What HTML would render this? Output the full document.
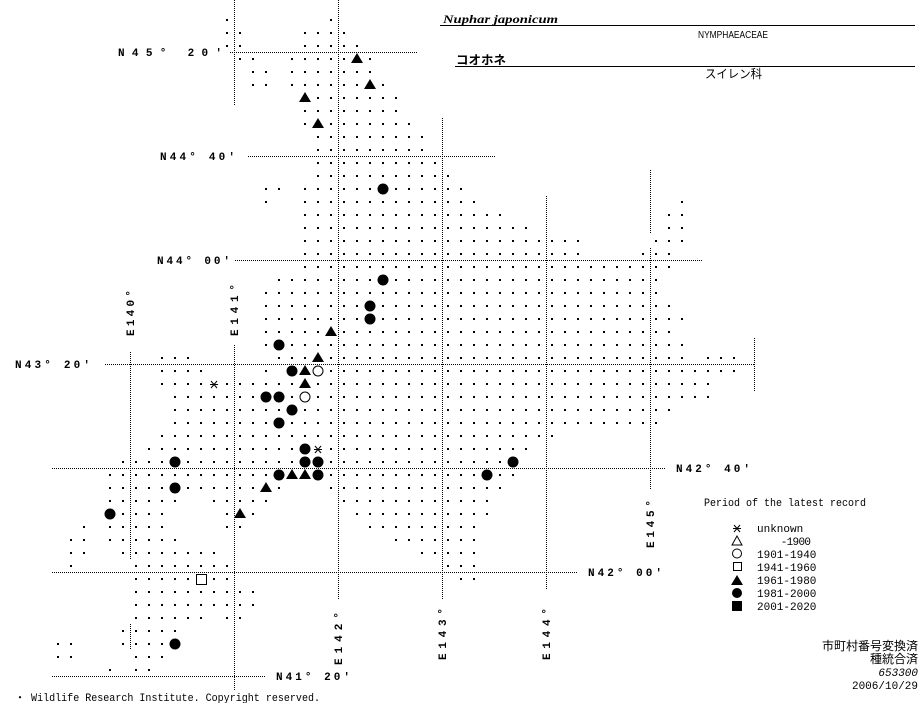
<!DOCTYPE html>
<html><head><meta charset="utf-8"><style>
html,body{margin:0;padding:0;background:#fff;}
svg{display:block;}
.g line{stroke:#000;stroke-width:2;stroke-dasharray:2 11;}
.d line{stroke:#000;stroke-width:1;stroke-dasharray:1 1;}
.lab{font-family:"Liberation Mono",monospace;font-size:11px;font-weight:bold;}
.mono{font-family:"Liberation Mono",monospace;font-size:11px;}
.jp{font-family:"Liberation Sans","Noto Sans CJK JP",sans-serif;}
</style></head><body>
<svg width="923" height="703" viewBox="0 0 923 703" xmlns="http://www.w3.org/2000/svg">
<rect width="923" height="703" fill="#fff"/>
<g class="d">
<line x1="230" y1="52.5" x2="418" y2="52.5"/>
<line x1="248" y1="156.5" x2="495" y2="156.5"/>
<line x1="235" y1="260.5" x2="703" y2="260.5"/>
<line x1="105" y1="364.5" x2="755" y2="364.5"/>
<line x1="52" y1="468.5" x2="665" y2="468.5"/>
<line x1="52" y1="572.5" x2="578" y2="572.5"/>
<line x1="52" y1="676.5" x2="265" y2="676.5"/>
<line x1="234.5" y1="0" x2="234.5" y2="105"/>
<line x1="234.5" y1="345" x2="234.5" y2="690"/>
<line x1="130.5" y1="352" x2="130.5" y2="560"/>
<line x1="130.5" y1="624" x2="130.5" y2="650"/>
<line x1="338.5" y1="0" x2="338.5" y2="600"/>
<line x1="442.5" y1="118" x2="442.5" y2="600"/>
<line x1="546.5" y1="196" x2="546.5" y2="590"/>
<line x1="650.5" y1="170" x2="650.5" y2="234"/>
<line x1="650.5" y1="248" x2="650.5" y2="490"/>
<line x1="754.5" y1="338" x2="754.5" y2="392"/>
</g>
<g class="g">
<line x1="226" x2="228" y1="20" y2="20"/><line x1="330" x2="332" y1="20" y2="20"/>
<line x1="226" x2="241" y1="33" y2="33"/><line x1="304" x2="345" y1="33" y2="33"/>
<line x1="226" x2="241" y1="46" y2="46"/><line x1="304" x2="358" y1="46" y2="46"/>
<line x1="239" x2="254" y1="59" y2="59"/><line x1="291" x2="371" y1="59" y2="59"/>
<line x1="252" x2="267" y1="72" y2="72"/><line x1="291" x2="371" y1="72" y2="72"/>
<line x1="252" x2="267" y1="85" y2="85"/><line x1="291" x2="384" y1="85" y2="85"/>
<line x1="304" x2="397" y1="98" y2="98"/>
<line x1="304" x2="397" y1="111" y2="111"/>
<line x1="304" x2="410" y1="124" y2="124"/>
<line x1="317" x2="423" y1="137" y2="137"/>
<line x1="317" x2="423" y1="150" y2="150"/>
<line x1="317" x2="436" y1="163" y2="163"/>
<line x1="317" x2="449" y1="176" y2="176"/>
<line x1="265" x2="280" y1="189" y2="189"/><line x1="304" x2="462" y1="189" y2="189"/>
<line x1="265" x2="267" y1="202" y2="202"/><line x1="304" x2="475" y1="202" y2="202"/><line x1="681" x2="683" y1="202" y2="202"/>
<line x1="304" x2="501" y1="215" y2="215"/><line x1="668" x2="683" y1="215" y2="215"/>
<line x1="304" x2="527" y1="228" y2="228"/><line x1="668" x2="683" y1="228" y2="228"/>
<line x1="304" x2="579" y1="241" y2="241"/><line x1="655" x2="683" y1="241" y2="241"/>
<line x1="304" x2="579" y1="254" y2="254"/><line x1="642" x2="670" y1="254" y2="254"/>
<line x1="304" x2="670" y1="267" y2="267"/>
<line x1="278" x2="657" y1="280" y2="280"/>
<line x1="265" x2="657" y1="293" y2="293"/>
<line x1="265" x2="670" y1="306" y2="306"/>
<line x1="265" x2="683" y1="319" y2="319"/>
<line x1="265" x2="670" y1="332" y2="332"/>
<line x1="265" x2="683" y1="345" y2="345"/>
<line x1="161" x2="189" y1="358" y2="358"/><line x1="278" x2="683" y1="358" y2="358"/><line x1="707" x2="735" y1="358" y2="358"/>
<line x1="161" x2="202" y1="371" y2="371"/><line x1="265" x2="267" y1="371" y2="371"/><line x1="291" x2="735" y1="371" y2="371"/>
<line x1="161" x2="709" y1="384" y2="384"/>
<line x1="174" x2="709" y1="397" y2="397"/>
<line x1="174" x2="670" y1="410" y2="410"/>
<line x1="174" x2="657" y1="423" y2="423"/>
<line x1="161" x2="553" y1="436" y2="436"/>
<line x1="148" x2="527" y1="449" y2="449"/>
<line x1="122" x2="514" y1="462" y2="462"/>
<line x1="109" x2="514" y1="475" y2="475"/>
<line x1="109" x2="280" y1="488" y2="488"/><line x1="330" x2="501" y1="488" y2="488"/>
<line x1="109" x2="176" y1="501" y2="501"/><line x1="213" x2="267" y1="501" y2="501"/><line x1="343" x2="488" y1="501" y2="501"/>
<line x1="109" x2="163" y1="514" y2="514"/><line x1="226" x2="254" y1="514" y2="514"/><line x1="356" x2="488" y1="514" y2="514"/>
<line x1="83" x2="85" y1="527" y2="527"/><line x1="109" x2="163" y1="527" y2="527"/><line x1="226" x2="241" y1="527" y2="527"/><line x1="369" x2="475" y1="527" y2="527"/>
<line x1="70" x2="85" y1="540" y2="540"/><line x1="109" x2="176" y1="540" y2="540"/><line x1="395" x2="475" y1="540" y2="540"/>
<line x1="70" x2="85" y1="553" y2="553"/><line x1="122" x2="215" y1="553" y2="553"/><line x1="421" x2="475" y1="553" y2="553"/>
<line x1="70" x2="72" y1="566" y2="566"/><line x1="135" x2="228" y1="566" y2="566"/><line x1="447" x2="475" y1="566" y2="566"/>
<line x1="135" x2="228" y1="579" y2="579"/><line x1="460" x2="475" y1="579" y2="579"/>
<line x1="135" x2="254" y1="592" y2="592"/>
<line x1="135" x2="254" y1="605" y2="605"/>
<line x1="135" x2="202" y1="618" y2="618"/><line x1="226" x2="241" y1="618" y2="618"/>
<line x1="122" x2="176" y1="631" y2="631"/>
<line x1="57" x2="72" y1="644" y2="644"/><line x1="122" x2="176" y1="644" y2="644"/>
<line x1="57" x2="72" y1="657" y2="657"/><line x1="135" x2="163" y1="657" y2="657"/>
<line x1="109" x2="111" y1="670" y2="670"/><line x1="135" x2="150" y1="670" y2="670"/>
</g>
<g fill="#000">
<polygon points="357,53 351,63 363,63"/>
<polygon points="370,79 364,89 376,89"/>
<polygon points="305,92 299,102 311,102"/>
<polygon points="318,118 312,128 324,128"/>
<polygon points="331,326 325,336 337,336"/>
<polygon points="318,352 312,362 324,362"/>
<polygon points="305,365 299,375 311,375"/>
<polygon points="305,378 299,388 311,388"/>
<polygon points="292,469 286,479 298,479"/>
<polygon points="305,469 299,479 311,479"/>
<polygon points="266,482 260,492 272,492"/>
<polygon points="240,508 234,518 246,518"/>
<circle cx="383" cy="189" r="5.5"/><circle cx="383" cy="280" r="5.5"/>
<circle cx="370" cy="306" r="5.5"/><circle cx="370" cy="319" r="5.5"/>
<circle cx="279" cy="345" r="5.5"/><circle cx="292" cy="371" r="5.5"/>
<circle cx="266" cy="397" r="5.5"/><circle cx="279" cy="397" r="5.5"/>
<circle cx="292" cy="410" r="5.5"/><circle cx="279" cy="423" r="5.5"/>
<circle cx="305" cy="449" r="5.5"/><circle cx="305" cy="462" r="5.5"/>
<circle cx="318" cy="462" r="5.5"/><circle cx="175" cy="462" r="5.5"/>
<circle cx="513" cy="462" r="5.5"/><circle cx="279" cy="475" r="5.5"/>
<circle cx="318" cy="475" r="5.5"/><circle cx="487" cy="475" r="5.5"/>
<circle cx="175" cy="488" r="5.5"/><circle cx="110" cy="514" r="5.5"/>
<circle cx="175" cy="644" r="5.5"/>
</g>
<g fill="#fff" stroke="#000" stroke-width="1">
<circle cx="318" cy="371" r="5"/><circle cx="305" cy="397" r="5"/>
<rect x="196.5" y="574.5" width="10" height="10"/>
<rect x="209" y="379" width="10" height="10" stroke="none"/>
<rect x="313" y="444" width="10" height="10" stroke="none"/>
</g>
<g stroke="#000" stroke-width="1">
<line x1="210" y1="384.5" x2="218" y2="384.5"/><line x1="211" y1="381" x2="217" y2="388"/><line x1="217" y1="381" x2="211" y2="388"/>
<line x1="314" y1="449.5" x2="322" y2="449.5"/><line x1="315" y1="446" x2="321" y2="453"/><line x1="321" y1="446" x2="315" y2="453"/>
</g>
<g class="lab">
<text x="118" y="56" textLength="104" lengthAdjust="spacing">N45° 20′</text>
<text x="160" y="160" textLength="75" lengthAdjust="spacing">N44° 40′</text>
<text x="157" y="264" textLength="73" lengthAdjust="spacing">N44° 00′</text>
<text x="15" y="368" textLength="75" lengthAdjust="spacing">N43° 20′</text>
<text x="676" y="472" textLength="74" lengthAdjust="spacing">N42° 40′</text>
<text x="588" y="576" textLength="74" lengthAdjust="spacing">N42° 00′</text>
<text x="276" y="680" textLength="74" lengthAdjust="spacing">N41° 20′</text>
<text transform="translate(134,336) rotate(-90)" textLength="46" lengthAdjust="spacing">E140°</text>
<text transform="translate(238,336) rotate(-90)" textLength="52" lengthAdjust="spacing">E141°</text>
<text transform="translate(342,665) rotate(-90)" textLength="53" lengthAdjust="spacing">E142°</text>
<text transform="translate(446,660) rotate(-90)" textLength="52" lengthAdjust="spacing">E143°</text>
<text transform="translate(550,660) rotate(-90)" textLength="52" lengthAdjust="spacing">E144°</text>
<text transform="translate(654,548) rotate(-90)" textLength="48" lengthAdjust="spacing">E145°</text>
</g>
<text x="443" y="23" font-family="Liberation Serif,serif" font-style="italic" font-weight="bold" font-size="12" textLength="115" lengthAdjust="spacingAndGlyphs">Nuphar japonicum</text>
<line x1="440" y1="25.5" x2="915" y2="25.5" stroke="#000"/>
<text x="698" y="38" font-family="Liberation Sans,sans-serif" font-size="10" textLength="70" lengthAdjust="spacingAndGlyphs">NYMPHAEACEAE</text>
<text x="456" y="64" class="jp" font-weight="bold" font-size="12" textLength="50" lengthAdjust="spacingAndGlyphs">コオホネ</text>
<line x1="455" y1="66.5" x2="915" y2="66.5" stroke="#000"/>
<text x="705" y="78" class="jp" font-size="12" textLength="57" lengthAdjust="spacingAndGlyphs">スイレン科</text>
<text x="704" y="506" class="mono" textLength="162" lengthAdjust="spacingAndGlyphs">Period of the latest record</text>
<g class="mono">
<text x="757" y="532">unknown</text>
<text x="757" y="545" textLength="54" lengthAdjust="spacing" xml:space="preserve">    -1900</text>
<text x="757" y="558">1901-1940</text>
<text x="757" y="571">1941-1960</text>
<text x="757" y="584">1961-1980</text>
<text x="757" y="597">1981-2000</text>
<text x="757" y="610">2001-2020</text>
</g>
<g stroke="#000" stroke-width="1">
<line x1="733" y1="528.5" x2="741" y2="528.5"/><line x1="734" y1="525" x2="740" y2="532"/><line x1="740" y1="525" x2="734" y2="532"/>
</g>
<polygon points="737,536 732,545 742,545" fill="none" stroke="#000"/>
<circle cx="737" cy="553.5" r="4.5" fill="none" stroke="#000"/>
<rect x="733.5" y="562.5" width="8" height="8" fill="none" stroke="#000"/>
<polygon points="737,575 731,585 743,585" fill="#000"/>
<circle cx="737" cy="593" r="5" fill="#000"/>
<rect x="732" y="601" width="10" height="10" fill="#000"/>
<g class="jp" font-size="12" text-anchor="end">
<text x="918" y="650">市町村番号変換済</text>
<text x="918" y="663">種統合済</text>
<text x="918" y="676" font-family="Liberation Mono,monospace" font-style="italic" font-size="11">653300</text>
<text x="918" y="689" font-family="Liberation Mono,monospace" font-size="11">2006/10/29</text>
</g>
<text x="15" y="701" class="mono" textLength="305" lengthAdjust="spacingAndGlyphs">・ Wildlife Research Institute. Copyright reserved.</text>
</svg>
</body></html>
